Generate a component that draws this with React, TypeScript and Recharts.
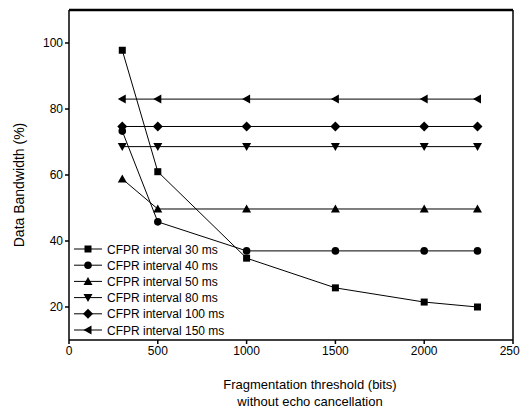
import { LineChart, Line, XAxis, YAxis, ReferenceLine } from 'recharts';

const thresholds = [300, 500, 1000, 1500, 2000, 2300];
const cfpr30 = [97.8, 61, 34.8, 25.8, 21.5, 20];
const cfpr40 = [73.3, 45.8, 37, 37, 37, 37];
const cfpr50 = [58.8, 49.7, 49.7, 49.7, 49.7, 49.7];
const cfpr80 = [68.6, 68.6, 68.6, 68.6, 68.6, 68.6];
const cfpr100 = [74.7, 74.7, 74.7, 74.7, 74.7, 74.7];
const cfpr150 = [83, 83, 83, 83, 83, 83];

const xTicks = [0, 500, 1000, 1500, 2000, 2500];
const yTicks = [20, 40, 60, 80, 100];

const data = thresholds.map((t, i) => ({
  t,
  s30: cfpr30[i],
  s40: cfpr40[i],
  s50: cfpr50[i],
  s80: cfpr80[i],
  s100: cfpr100[i],
  s150: cfpr150[i],
}));

type Shape = 'square' | 'circle' | 'up' | 'down' | 'diamond' | 'left';

const series: { key: string; name: string; shape: Shape }[] = [
  { key: 's30', name: 'CFPR interval 30 ms', shape: 'square' },
  { key: 's40', name: 'CFPR interval 40 ms', shape: 'circle' },
  { key: 's50', name: 'CFPR interval 50 ms', shape: 'up' },
  { key: 's80', name: 'CFPR interval 80 ms', shape: 'down' },
  { key: 's100', name: 'CFPR interval 100 ms', shape: 'diamond' },
  { key: 's150', name: 'CFPR interval 150 ms', shape: 'left' },
];

const font = 'Arial, "Liberation Sans", sans-serif';

function marker(shape: Shape, cx: number, cy: number, key?: string) {
  const s = 4;
  switch (shape) {
    case 'square':
      return <rect key={key} x={cx - 3.5} y={cy - 3.5} width={7} height={7} fill="#000" />;
    case 'circle':
      return <circle key={key} cx={cx} cy={cy} r={3.8} fill="#000" />;
    case 'up':
      return <polygon key={key} points={`${cx},${cy - s - 0.5} ${cx + s + 0.5},${cy + s - 0.5} ${cx - s - 0.5},${cy + s - 0.5}`} fill="#000" />;
    case 'down':
      return <polygon key={key} points={`${cx},${cy + s + 0.5} ${cx + s + 0.5},${cy - s + 0.5} ${cx - s - 0.5},${cy - s + 0.5}`} fill="#000" />;
    case 'diamond':
      return <polygon key={key} points={`${cx},${cy - s - 1} ${cx + s + 1},${cy} ${cx},${cy + s + 1} ${cx - s - 1},${cy}`} fill="#000" />;
    case 'left':
      return <polygon key={key} points={`${cx - s - 0.5},${cy} ${cx + s - 0.5},${cy - s - 0.5} ${cx + s - 0.5},${cy + s + 0.5}`} fill="#000" />;
  }
}

// legend drawn as a plain overlay so it does not take space from the plot
const LegendBox = () => (
  <svg width={160} height={100} style={{ position: 'absolute', left: 64, top: 233, overflow: 'visible' }}>
    {series.map((s, i) => {
      const y = 8 + i * 16.2;
      return (
        <g key={s.key}>
          <line x1={2} x2={30} y1={y} y2={y} stroke="#000" strokeWidth={1} />
          {marker(s.shape, 16, y)}
          <text x={35} y={y + 4.5} fontSize={12} fontFamily={font} fill="#000">
            {s.name}
          </text>
        </g>
      );
    })}
  </svg>
);

const XLabel = () => (
  <text textAnchor="middle" fontSize={13} fontFamily={font} fill="#000">
    <tspan x={302} y={381}>Fragmentation threshold (bits)</tspan>
    <tspan x={302} y={398}>without echo cancellation</tspan>
  </text>
);

const YLabel = () => (
  <text
    x={16}
    y={177}
    transform="rotate(-90 16 177)"
    textAnchor="middle"
    fontSize={14}
    fontFamily={font}
    fill="#000"
  >
    Data Bandwidth (%)
  </text>
);

export default function App() {
  return (
    <div style={{ position: 'relative', width: 520, height: 400, background: '#fff' }}>
      <LineChart width={520} height={400} data={data} margin={{ top: 2, right: 15, bottom: 0, left: 0 }}>
        <XAxis
          dataKey="t"
          type="number"
          domain={[0, 2500]}
          ticks={xTicks}
          height={68}
          stroke="#000"
          strokeWidth={1.5}
          tickSize={4}
          tick={{ fill: '#000', fontSize: 12, fontFamily: font }}
          label={<XLabel />}
        />
        <YAxis
          type="number"
          domain={[10, 110]}
          ticks={yTicks}
          width={61}
          stroke="#000"
          strokeWidth={1.5}
          tickSize={4}
          tick={{ fill: '#000', fontSize: 12, fontFamily: font }}
          label={<YLabel />}
        />
        <ReferenceLine y={110} stroke="#000" strokeWidth={2.5} />
        <ReferenceLine x={2500} stroke="#000" strokeWidth={1.5} />
        {series.map(s => (
          <Line
            key={s.key}
            dataKey={s.key}
            name={s.name}
            type="linear"
            stroke="#000"
            strokeWidth={1}
            isAnimationActive={false}
            dot={(p: any) => marker(s.shape, p.cx, p.cy, `${s.key}-${p.index}`)}
            activeDot={false}
          />
        ))}
      </LineChart>
      <LegendBox />
    </div>
  );
}
